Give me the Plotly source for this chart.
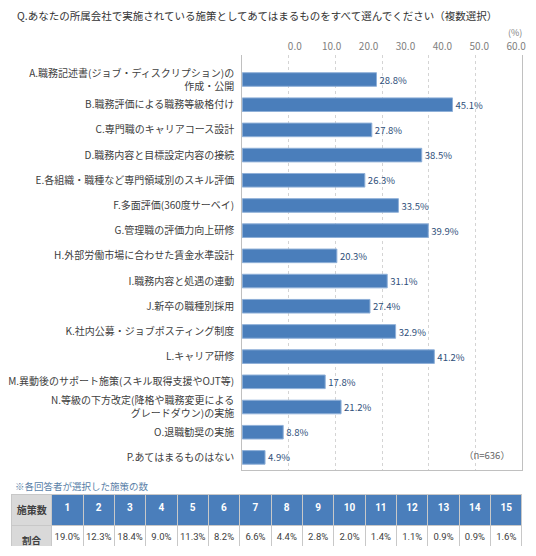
import plotly.graph_objects as go

# page offset: the browser body has an 8px margin
OFF = 8
W, H = 520, 540

categories = [
    "A.職務記述書(ジョブ・ディスクリプション)の<br>作成・公開",
    "B.職務評価による職務等級格付け",
    "C.専門職のキャリアコース設計",
    "D.職務内容と目標設定内容の接続",
    "E.各組織・職種など専門領域別のスキル評価",
    "F.多面評価(360度サーベイ)",
    "G.管理職の評価力向上研修",
    "H.外部労働市場に合わせた賃金水準設計",
    "I.職務内容と処遇の連動",
    "J.新卒の職種別採用",
    "K.社内公募・ジョブポスティング制度",
    "L.キャリア研修",
    "M.異動後のサポート施策(スキル取得支援やOJT等)",
    "N.等級の下方改定(降格や職務変更による<br>グレードダウン)の実施",
    "O.退職勧奨の実施",
    "P.あてはまるものはない",
]
values = [28.8, 45.1, 27.8, 38.5, 26.3, 33.5, 39.9, 20.3, 31.1, 27.4, 32.9, 41.2, 17.8, 21.2, 8.8, 4.9]

tick_values = [0, 10, 20, 30, 40, 50, 60]
tick_labels = ["0.0", "10.0", "20.0", "30.0", "40.0", "50.0", "60.0"]

table_counts = [str(i) for i in range(1, 16)]
table_shares = ["19.0%", "12.3%", "18.4%", "9.0%", "11.3%", "8.2%", "6.6%", "4.4%",
                "2.8%", "2.0%", "1.4%", "1.1%", "0.9%", "0.9%", "1.6%"]

title_text = "Q.あなたの所属会社で実施されている施策としてあてはまるものをすべて選んでください（複数選択）"
note_text = "※各回答者が選択した施策の数"
n_text = "（n=636）"

FONT = "Noto Sans CJK JP"
NUMFONT = "Roboto"
BLUE = "#4a7ebb"


def px_x(x):
    return (x - OFF) / W


def px_y(y):
    return 1 - (y - OFF) / H


fig = go.Figure()
fig.add_trace(go.Bar(
    x=values, y=categories, orientation="h",
    marker=dict(color=BLUE, line=dict(color="#8fb0d8", width=1)),
    texttemplate="%{x:.1f}%", textposition="outside",
    textfont=dict(color="#2f4f7a", size=10.5, family=FONT),
    cliponaxis=False, showlegend=False, xaxis="x", yaxis="y",
    hoverinfo="skip",
))
# invisible helper so the top tick-label axis is drawn
fig.add_trace(go.Scatter(
    x=[tick_values[0]], y=[categories[0]], mode="markers",
    marker=dict(opacity=0), showlegend=False, hoverinfo="skip",
    xaxis="x2", yaxis="y",
))

# table of counts
n = len(table_counts)
fig.add_trace(go.Table(
    domain=dict(x=[px_x(12), px_x(526)], y=[px_y(546), px_y(494)]),
    columnwidth=[40] + [31.6] * n,
    header=dict(
        values=["<b>施策数</b>"] + [f"<b>{c}</b>" for c in table_counts],
        fill=dict(color=["#d9d9d9"] + [BLUE] * n),
        font=dict(color=["#404040"] + ["white"] * n, size=10,
                  family=[FONT] + [NUMFONT] * n),
        line=dict(color="#c8c8c8", width=1),
        align="center", height=18,
    ),
    cells=dict(
        values=[["<b>割合</b>"]] + [[s] for s in table_shares],
        fill=dict(color=["#d9d9d9"] + ["white"] * n),
        font=dict(color=["#404040"] + ["#404040"] * n, size=9.5,
                  family=[FONT] + [NUMFONT] * n),
        line=dict(color="#c8c8c8", width=1),
        align="center", height=24,
    ),
))

fig.update_layout(
    width=W, height=H,
    margin=dict(l=0, r=0, t=0, b=0),
    paper_bgcolor="white", plot_bgcolor="white",
    font=dict(family=FONT, color="#404040", size=10),
    bargap=0.46,
    title=dict(text=title_text, x=px_x(17), xanchor="left", y=px_y(16), yanchor="middle",
               font=dict(size=10.5, color="#333333", family=FONT)),
    xaxis=dict(
        domain=[px_x(244), px_x(526)], range=[0, 60], tickvals=tick_values,
        showticklabels=False, showgrid=True, gridcolor="#d4d4d4", griddash="dot",
        gridwidth=1, zeroline=False, showline=True, linecolor="#c0c0c0", linewidth=1,
        ticks="", fixedrange=True, anchor="y",
    ),
    xaxis2=dict(
        overlaying="x", side="top", anchor="y", range=[-14.26, 61.59],
        tickvals=tick_values, ticktext=tick_labels, showgrid=False, zeroline=False,
        showline=False, ticks="", tickfont=dict(size=10, color="#808080", family=FONT),
        ticklabelstandoff=2, fixedrange=True, ticklabeloverflow="allow",
    ),
    yaxis=dict(
        domain=[px_y(470), px_y(55)], autorange="reversed", showline=True, mirror=True,
        linecolor="#c0c0c0", linewidth=1, showgrid=False, ticks="",
        tickfont=dict(size=10, color="#404040", family=FONT), ticklabelstandoff=5,
        automargin=False, fixedrange=True,
    ),
    annotations=[
        dict(text="(%)", x=px_x(519), y=px_y(33), xref="paper", yref="paper",
             showarrow=False, xanchor="center", yanchor="middle",
             font=dict(size=9, color="#808080", family=FONT)),
        dict(text=n_text, x=px_x(491), y=px_y(455), xref="paper", yref="paper",
             showarrow=False, xanchor="center", yanchor="middle",
             font=dict(size=9.5, color="#666666", family=FONT)),
        dict(text=note_text, x=px_x(13), y=px_y(486), xref="paper", yref="paper",
             showarrow=False, xanchor="left", yanchor="middle",
             font=dict(size=9.5, color="#5a7fa8", family=FONT)),
    ],
)

fig.write_html("out.html")
